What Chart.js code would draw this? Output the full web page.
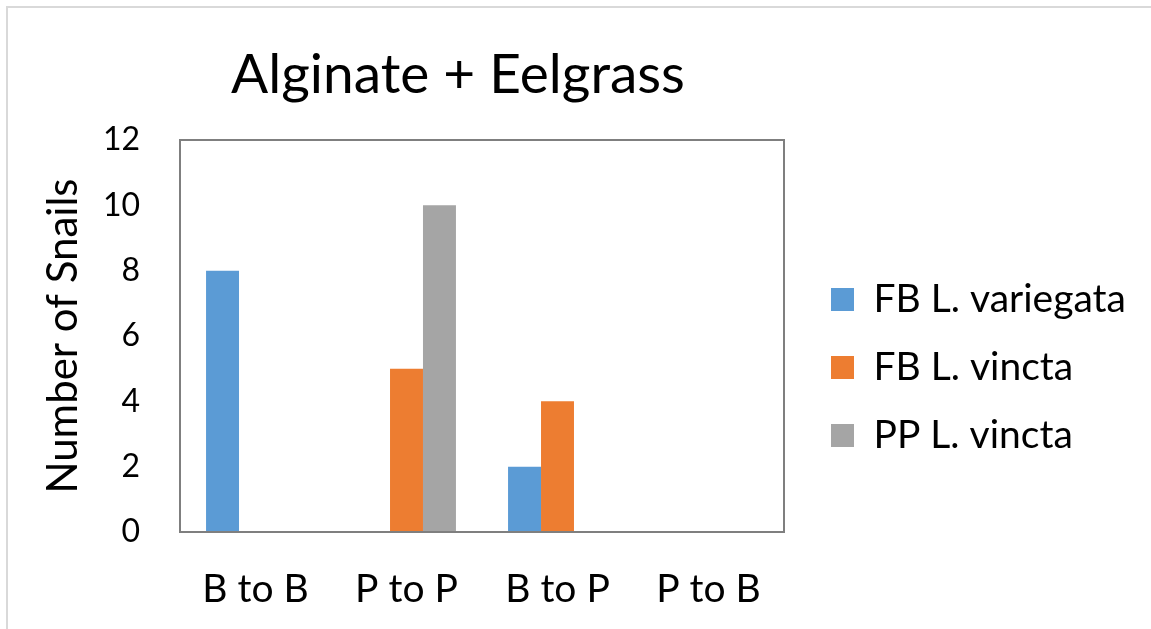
<!DOCTYPE html>
<html>
<head>
<meta charset="utf-8">
<script src="https://cdn.jsdelivr.net/npm/chart.js@4/dist/chart.umd.min.js"></script>
<style>
  html, body { margin: 0; padding: 0; background: #fff; }
  #wrap { position: relative; width: 1151px; height: 629px; }
  #frame { position: absolute; left: 6px; top: 6px; right: 0; bottom: 0;
           border-top: 2px solid #d9d9d9; border-left: 2px solid #d9d9d9; pointer-events: none; }
  canvas { display: block; }
</style>
</head>
<body>
<div id="wrap">
  <canvas id="chart" width="1151" height="629"></canvas>
  <div id="frame"></div>
</div>
<script>
// Snail counts per transplant direction
const categories = ['B to B', 'P to P', 'B to P', 'P to B'];
const fbVariegata = [8, 0, 2, 0];
const fbVincta    = [0, 5, 4, 0];
const ppVincta    = [0, 10, 0, 0];
const seriesNames = ['FB L. variegata', 'FB L. vincta', 'PP L. vincta'];
const yTicks = [0, 2, 4, 6, 8, 10, 12];

const FONT = 'Lato, "Open Sans", sans-serif';

// Frame around the plot area
const plotBox = {
  id: 'plotBox',
  afterDatasetsDraw(chart) {
    const { ctx, chartArea: a } = chart;
    ctx.save();
    ctx.strokeStyle = '#7f7f7f';
    ctx.lineWidth = 2;
    ctx.strokeRect(a.left, a.top, a.right - a.left, a.bottom - a.top);
    ctx.restore();
  }
};

// Fixed legend width, then shift the legend and title blocks after layout
const blockTweaks = {
  id: 'blockTweaks',
  beforeLayout(chart, args, opts) {
    const lg = chart.legend;
    if (lg && !lg._fixedWidth) {
      const fit = lg.fit;
      lg.fit = function () { fit.call(this); this.width = opts.legendWidth; };
      lg._fixedWidth = true;
    }
  },
  afterLayout(chart, args, opts) {
    const lg = chart.legend;
    if (lg) {
      lg.left += opts.legendDx; lg.right += opts.legendDx;
      lg.top += opts.legendDy; lg.bottom += opts.legendDy;
    }
    const tb = chart.titleBlock;
    if (tb) { tb.left += opts.titleDx; tb.right += opts.titleDx; }
  }
};

new Chart(document.getElementById('chart'), {
  type: 'bar',
  data: {
    labels: categories,
    datasets: [
      { label: seriesNames[0], data: fbVariegata, backgroundColor: '#5B9BD5' },
      { label: seriesNames[1], data: fbVincta, backgroundColor: '#ED7D31' },
      { label: seriesNames[2], data: ppVincta, backgroundColor: '#A5A5A5' }
    ]
  },
  options: {
    responsive: false,
    animation: false,
    layout: { padding: { left: 23, right: 0, top: 0, bottom: 0 } },
    datasets: { bar: { categoryPercentage: 0.655, barPercentage: 1.0, borderWidth: 0 } },
    scales: {
      x: {
        grid: { display: false, drawTicks: false },
        border: { display: false },
        afterFit(scale) { scale.height = 97; },
        ticks: { color: '#000', font: { family: FONT, size: 39 }, padding: 34, maxRotation: 0 }
      },
      y: {
        min: 0, max: 12,
        afterBuildTicks(scale) { scale.ticks = yTicks.map(v => ({ value: v })); },
        afterFit(scale) { scale.width = 157; },
        grid: { display: false, drawTicks: false },
        border: { display: false },
        ticks: { color: '#000', font: { family: FONT, size: 32 }, padding: 40 },
        title: { display: true, text: 'Number of Snails', color: '#000',
                 font: { family: FONT, size: 42 }, padding: 15 }
      }
    },
    plugins: {
      title: { display: true, text: 'Alginate + Eelgrass', color: '#000',
               font: { family: FONT, size: 55, weight: 'normal' },
               padding: { top: 42, bottom: 32 } },
      legend: {
        position: 'right',
        align: 'center',
        labels: { color: '#000', font: { family: FONT, size: 39 },
                  boxWidth: 23, boxHeight: 23, padding: 29 }
      },
      tooltip: { enabled: false },
      blockTweaks: { legendWidth: 367, legendDx: 18, legendDy: 53, titleDx: -129 }
    }
  },
  plugins: [plotBox, blockTweaks]
});
</script>
</body>
</html>
